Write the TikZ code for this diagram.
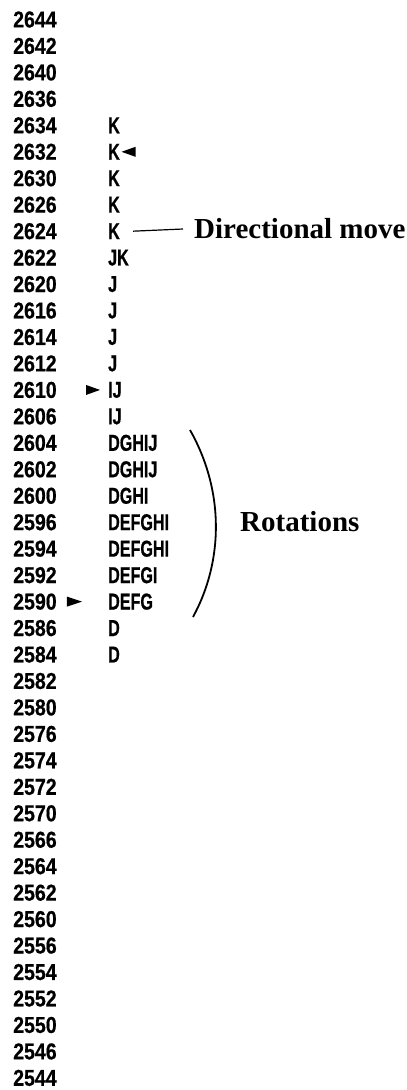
\documentclass[tikz,border=0pt]{standalone}
\usepackage{fontspec}
\newfontfamily\numfont[FakeStretch=0.85,FakeBold=0.6]{Liberation Sans}
\newfontfamily\letfont[FakeStretch=0.70,FakeBold=0.6]{Liberation Sans}
\newfontfamily\labfont{Liberation Serif}

\tikzset{
  numtxt/.style={anchor=west, inner sep=0pt, font=\numfont\bfseries\fontsize{23}{23}\selectfont},
  lettxt/.style={anchor=west, inner sep=0pt, font=\letfont\bfseries\fontsize{23}{23}\selectfont},
  labtxt/.style={anchor=west, inner sep=0pt, font=\labfont\bfseries\fontsize{29}{29}\selectfont},
  marker/.style={fill=black},
}

\begin{document}
\begin{tikzpicture}[x=1pt, y=-1pt]

    \useasboundingbox (0,0) rectangle (407,1090);

    % 时间列
    \foreach \num [count=\i] in {2644,2642,2640,2636,2634,2632,2630,2626,2624,2622,
                                 2620,2616,2614,2612,2610,2606,2604,2602,2600,2596,
                                 2594,2592,2590,2586,2584,2582,2580,2576,2574,2572,
                                 2570,2566,2564,2562,2560,2556,2554,2552,2550,2546,2544}
        \node[numtxt] (n\i) at (13, {19.5+(\i-1)*26.46}) {\num};

    % 字母列
    \foreach \i/\s in {5/K,6/K,7/K,8/K,9/K,10/JK,11/J,12/J,13/J,14/J,15/IJ,16/IJ,
                       17/DGHIJ,18/DGHIJ,19/DGHI,20/DEFGHI,21/DEFGHI,22/DEFGI,23/DEFG,24/D,25/D}
        \node[lettxt] (l\i) at (108, {19.5+(\i-1)*26.46}) {\s};

    % 三角标记
    \fill[marker] ([xshift=1.5]l6.east) -- ++(14,-5) -- ++(0,10) -- cycle; % 指向左
    \fill[marker] ([xshift=-8]l15.west) -- ++(-14,-5) -- ++(0,10) -- cycle; % 指向右
    \fill[marker] ([xshift=25]n23.east) -- ++(-15,-5) -- ++(0,10) -- cycle; % 指向右

    % 标签
    \node[labtxt] (dir) at (194,229) {Directional move};
    \node[labtxt] (rot) at (240,522) {Rotations};

    % 连线与括号
    \draw[line width=1.2pt] ([xshift=13]l9.east) -- ([xshift=-11]dir.west);
    \draw[line width=1.8pt] (190,430) .. controls (224,490) and (224,560) .. (193,617);

\end{tikzpicture}
\end{document}
